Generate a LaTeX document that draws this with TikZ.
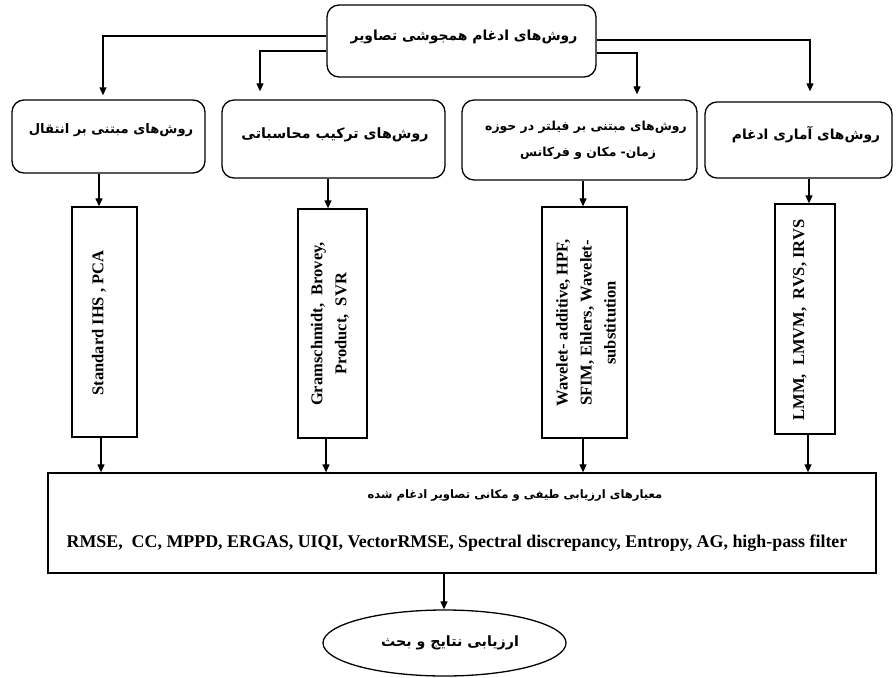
\documentclass[tikz,border=0pt]{standalone}
\usepackage{fontspec}
\setmainfont{Liberation Serif}
\newfontfamily\fa[Script=Arabic]{DejaVu Sans}
\TeXXeTstate=1
\usetikzlibrary{arrows.meta,shapes.geometric}
\newcommand{\fasz}[1]{\fontsize{#1}{15}\selectfont}
\begin{document}
\begin{tikzpicture}[x=1pt,y=-1pt,
 box/.style={draw, line width=1.3pt, rounded corners=12pt, inner sep=0pt},
 vbox/.style={draw, line width=1.3pt, inner sep=0pt},
 arr/.style={line width=1.2pt, -{Triangle[width=7pt,length=8pt]}},
 fatxt/.style={font=\fa\bfseries, inner sep=0pt},
 latxt/.style={font=\bfseries\fontsize{16.5}{24}\selectfont, inner sep=0pt, align=center, rotate=90}]
\useasboundingbox (0,0) rectangle (896,677);
% boxes
\node[box, minimum width=269pt, minimum height=72pt] (top) at (461.5,41) {};
\node[box, minimum width=193pt, minimum height=73pt] (b1) at (108.5,136.5) {};
\node[box, minimum width=223pt, minimum height=78pt] (b2) at (333.5,139) {};
\node[box, minimum width=235pt, minimum height=80pt] (b3) at (579.5,140) {};
\node[box, minimum width=187pt, minimum height=76pt] (b4) at (798.5,140) {};
\node[vbox, minimum width=65pt, minimum height=230pt] (vA) at (104.5,322) {};
\node[vbox, minimum width=69pt, minimum height=229pt] (vB) at (332.5,323.5) {};
\node[vbox, minimum width=85pt, minimum height=231pt] (vC) at (584.5,322.5) {};
\node[vbox, minimum width=60pt, minimum height=230pt] (vD) at (805,319) {};
\node[vbox, minimum width=828pt, minimum height=100pt] (bot) at (462,523) {};
\node[draw, ellipse, line width=1.3pt, minimum width=243pt, minimum height=66pt, inner sep=0pt] (ell) at (444.5,643) {};
% texts
\node[fatxt] (ttop) at (464,37) {\fasz{13.9}\beginR روش^^^^200cهای ادغام همجوشی تصاویر\endR};
\node[fatxt] (tb1) at (111,130) {\fasz{13.1}\beginR روش^^^^200cهای مبتنی بر انتقال\endR};
\node[fatxt] (tb2) at (335,135) {\fasz{14.2}\beginR روش^^^^200cهای ترکیب محاسباتی\endR};
\node[fatxt] (tb3a) at (586,127) {\fasz{12.4}\beginR روش^^^^200cهای مبتنی بر فیلتر در حوزه\endR};
\node[fatxt] (tb3b) at (588,153) {\fasz{12.4}\beginR زمان- مکان و فرکانس\endR};
\node[fatxt] (tb4) at (806,135) {\fasz{13.8}\beginR روش^^^^200cهای آماری ادغام\endR};
\node[fatxt] (tbot) at (515,496) {\fasz{11.6}\beginR معیارهای ارزیابی طیفی و مکانی تصاویر ادغام شده\endR};
\node[fatxt] (tell) at (450,643) {\fasz{14.2}\beginR ارزیابی نتایج و بحث\endR};
\node[latxt] (tA) at (99,323) {Standard IHS , PCA};
\node[latxt] (tB) at (330,324) {Gramschmidt,\ \ Brovey,\\Product,\ \ SVR};
\node[latxt] (tC) at (586,323) {Wavelet- additive, HPF,\\SFIM, Ehlers, Wavelet-\\substitution};
\node[latxt] (tD) at (800,320) {LMM,\ \ LMVM,\ \ RVS, IRVS};
\node[font=\bfseries\fontsize{17.9}{20}\selectfont, inner sep=0pt] (tmet) at (457,543) {RMSE,\ \ CC, MPPD, ERGAS, UIQI, VectorRMSE, Spectral discrepancy, Entropy, AG, high-pass filter};
% connectors from top
\draw[arr, shorten >=4pt] (top.west |- {0,36}) -| (b1.north -| {103,0});
\draw[arr, shorten >=8pt] (top.west |- {0,51}) -| (b2.north -| {260,0});
\draw[arr, shorten >=10pt] (top.east |- {0,40}) -| (b4.north -| {810,0});
\draw[arr, shorten >=5pt] (top.east |- {0,53}) -| (b3.north -| {637,0});
% row 2 to vertical boxes
\draw[arr] (b1.south -| {99,0}) -- (vA.north -| {99,0});
\draw[arr] (b2.south -| {328,0}) -- (vB.north -| {328,0});
\draw[arr] (b3.south -| {583,0}) -- (vC.north -| {583,0});
\draw[arr] (b4.south -| {809,0}) -- (vD.north -| {809,0});
% vertical boxes to bottom box
\draw[arr] (vA.south -| {101,0}) -- (bot.north -| {101,0});
\draw[arr] (vB.south -| {326,0}) -- (bot.north -| {326,0});
\draw[arr] (vC.south -| {583,0}) -- (bot.north -| {583,0});
\draw[arr] (vD.south -| {808,0}) -- (bot.north -| {808,0});
% bottom to ellipse
\draw[arr] (bot.south -| {444,0}) -- (ell.north -| {444,0});
\end{tikzpicture}
\end{document}
